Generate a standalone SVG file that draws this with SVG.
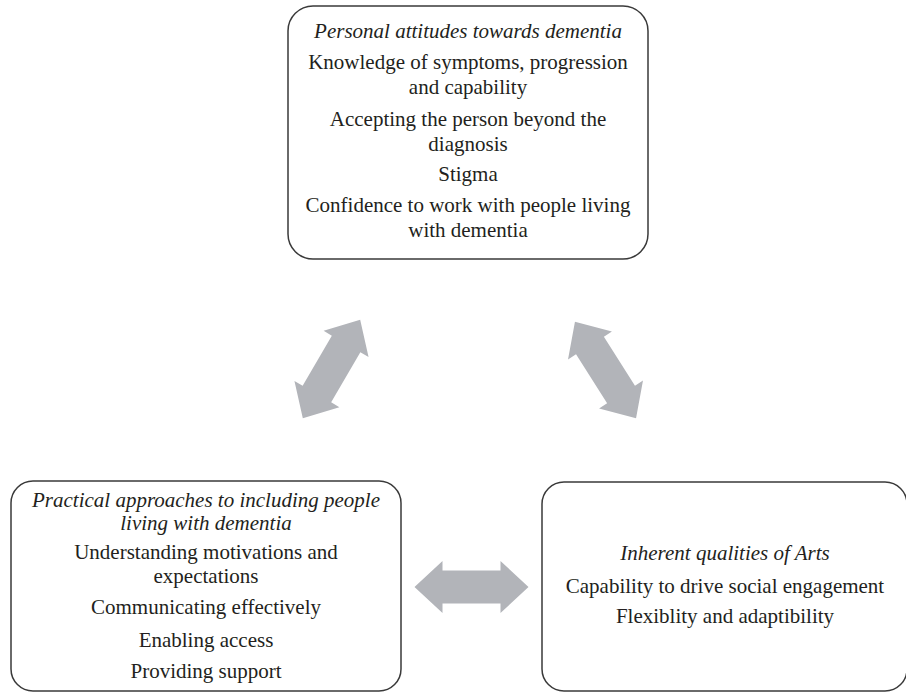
<svg xmlns="http://www.w3.org/2000/svg" xmlns:xlink="http://www.w3.org/1999/xlink" width="906" height="692" viewBox="0 0 906 692">
  <style>
    .box { fill: #ffffff; stroke: #3a3a3a; stroke-width: 1.5; }
    .t { font-family: "Liberation Serif", "Times New Roman", serif; font-size: 21px; fill: #231f20; text-anchor: middle; }
    .i { font-style: italic; }
    .arrow { fill: #b2b4b9; }
  </style>
  <defs>
    <polygon id="dbl" points="57,0 29,26 29,16.5 -29,16.5 -29,26 -57,0 -29,-26 -29,-16.5 29,-16.5 29,-26"/>
  </defs>
  <rect width="906" height="692" fill="#ffffff"/>
  <g id="connectors" class="arrow">
    <use xlink:href="#dbl" href="#dbl" transform="translate(331.5,369) rotate(-59.8)"/>
    <use xlink:href="#dbl" href="#dbl" transform="translate(605.5,370) rotate(57.6)"/>
    <use xlink:href="#dbl" href="#dbl" transform="translate(471.5,587)"/>
  </g>
  <g id="node-personal">
    <rect class="box" x="288" y="6" width="360" height="253" rx="25" ry="25"/>
    <text class="t i" x="468" y="38">Personal attitudes towards dementia</text>
    <text class="t" x="468" y="69">Knowledge of symptoms, progression</text>
    <text class="t" x="468" y="94">and capability</text>
    <text class="t" x="468" y="126">Accepting the person beyond the</text>
    <text class="t" x="468" y="151">diagnosis</text>
    <text class="t" x="468" y="181">Stigma</text>
    <text class="t" x="468" y="212">Confidence to work with people living</text>
    <text class="t" x="468" y="237">with dementia</text>
  </g>
  <g id="node-practical">
    <rect class="box" x="11" y="481" width="390" height="210" rx="22" ry="22"/>
    <text class="t i" x="206" y="507">Practical approaches to including people</text>
    <text class="t i" x="206" y="530">living with dementia</text>
    <text class="t" x="206" y="559">Understanding motivations and</text>
    <text class="t" x="206" y="583">expectations</text>
    <text class="t" x="206" y="614">Communicating effectively</text>
    <text class="t" x="206" y="647">Enabling access</text>
    <text class="t" x="206" y="678">Providing support</text>
  </g>
  <g id="node-arts">
    <rect class="box" x="542" y="482" width="365" height="209" rx="22" ry="22"/>
    <text class="t i" x="725" y="560">Inherent qualities of Arts</text>
    <text class="t" x="725" y="593">Capability to drive social engagement</text>
    <text class="t" x="725" y="623">Flexiblity and adaptibility</text>
  </g>
</svg>
